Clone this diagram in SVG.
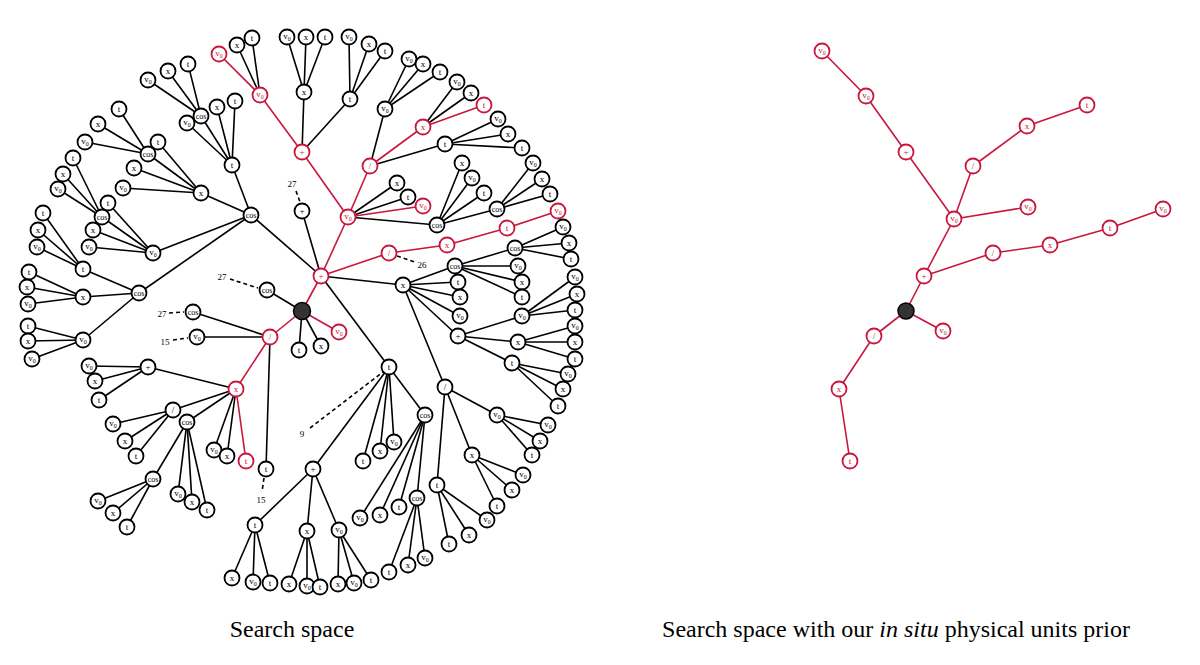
<svg xmlns="http://www.w3.org/2000/svg" width="1200" height="665" viewBox="0 0 1200 665">
<style>
.e line{stroke:#000;stroke-width:1.6}
.e line.rl{stroke:#c8163c}
.d line{stroke:#000;stroke-width:1.6;stroke-dasharray:4 3}
.b circle{fill:#fff;stroke:#000;stroke-width:1.8}
.r circle{fill:#fff;stroke:#c8163c;stroke-width:1.8}
.root circle{fill:#333;stroke:#000;stroke-width:1.5}
.n text{font-family:"Liberation Serif",serif;font-size:9px;text-anchor:middle}
.b text{fill:#000}
.r text{fill:#c8163c}
.n text.c{font-size:8px}
.n tspan{font-size:6px}
.ann{font-family:"Liberation Serif",serif;font-size:9px;text-anchor:middle;fill:#000}
.cap{font-family:"Liberation Serif",serif;font-size:24px;text-anchor:middle;fill:#000}
</style>
<rect width="1200" height="665" fill="#fff"/>
<g id="connectors" class="e">
<line class="rl" x1="302" y1="311" x2="321" y2="276"/>
<line x1="302" y1="311" x2="267" y2="290"/>
<line class="rl" x1="302" y1="311" x2="270" y2="337"/>
<line x1="302" y1="311" x2="299" y2="350"/>
<line x1="302" y1="311" x2="321" y2="346"/>
<line class="rl" x1="302" y1="311" x2="339" y2="332"/>
<line class="rl" x1="321" y1="276" x2="348" y2="217"/>
<line x1="321" y1="276" x2="302" y2="211"/>
<line x1="321" y1="276" x2="251" y2="215"/>
<line class="rl" x1="321" y1="276" x2="389" y2="253"/>
<line x1="321" y1="276" x2="403" y2="285"/>
<line x1="321" y1="276" x2="389" y2="367"/>
<line class="rl" x1="348" y1="217" x2="302" y2="152"/>
<line class="rl" x1="348" y1="217" x2="370" y2="166"/>
<line x1="348" y1="217" x2="397" y2="183"/>
<line x1="348" y1="217" x2="408" y2="197"/>
<line class="rl" x1="348" y1="217" x2="423" y2="206"/>
<line x1="348" y1="217" x2="437" y2="225"/>
<line class="rl" x1="302" y1="152" x2="260" y2="95"/>
<line x1="302" y1="152" x2="304" y2="92"/>
<line x1="302" y1="152" x2="350" y2="99"/>
<line class="rl" x1="260" y1="95" x2="219" y2="54"/>
<line x1="260" y1="95" x2="237" y2="45"/>
<line x1="260" y1="95" x2="252" y2="38"/>
<line x1="304" y1="92" x2="287" y2="37"/>
<line x1="304" y1="92" x2="306" y2="37"/>
<line x1="304" y1="92" x2="325" y2="37"/>
<line x1="350" y1="99" x2="349" y2="37"/>
<line x1="350" y1="99" x2="369" y2="44"/>
<line x1="350" y1="99" x2="385" y2="51"/>
<line x1="370" y1="166" x2="385" y2="109"/>
<line class="rl" x1="370" y1="166" x2="423" y2="127"/>
<line x1="370" y1="166" x2="445" y2="144"/>
<line x1="385" y1="109" x2="409" y2="59"/>
<line x1="385" y1="109" x2="423" y2="64"/>
<line x1="385" y1="109" x2="440" y2="72"/>
<line x1="423" y1="127" x2="457" y2="82"/>
<line x1="423" y1="127" x2="471" y2="93"/>
<line class="rl" x1="423" y1="127" x2="484" y2="105"/>
<line x1="445" y1="144" x2="498" y2="119"/>
<line x1="445" y1="144" x2="508" y2="134"/>
<line x1="445" y1="144" x2="522" y2="148"/>
<line x1="437" y1="225" x2="462" y2="163"/>
<line x1="437" y1="225" x2="472" y2="178"/>
<line x1="437" y1="225" x2="484" y2="193"/>
<line x1="437" y1="225" x2="497" y2="209"/>
<line x1="497" y1="209" x2="533" y2="163"/>
<line x1="497" y1="209" x2="542" y2="179"/>
<line x1="497" y1="209" x2="550" y2="194"/>
<line x1="251" y1="215" x2="232" y2="165"/>
<line x1="251" y1="215" x2="201" y2="193"/>
<line x1="251" y1="215" x2="153" y2="253"/>
<line x1="251" y1="215" x2="139" y2="293"/>
<line x1="232" y1="165" x2="201" y2="116"/>
<line x1="232" y1="165" x2="187" y2="123"/>
<line x1="232" y1="165" x2="217" y2="107"/>
<line x1="232" y1="165" x2="235" y2="101"/>
<line x1="201" y1="116" x2="188" y2="64"/>
<line x1="201" y1="116" x2="168" y2="71"/>
<line x1="201" y1="116" x2="148" y2="80"/>
<line x1="201" y1="193" x2="148" y2="154"/>
<line x1="201" y1="193" x2="158" y2="142"/>
<line x1="201" y1="193" x2="134" y2="168"/>
<line x1="201" y1="193" x2="123" y2="188"/>
<line x1="148" y1="154" x2="119" y2="109"/>
<line x1="148" y1="154" x2="98" y2="124"/>
<line x1="148" y1="154" x2="85" y2="142"/>
<line x1="153" y1="253" x2="108" y2="203"/>
<line x1="153" y1="253" x2="102" y2="217"/>
<line x1="153" y1="253" x2="93" y2="230"/>
<line x1="153" y1="253" x2="89" y2="247"/>
<line x1="102" y1="217" x2="73" y2="158"/>
<line x1="102" y1="217" x2="63" y2="174"/>
<line x1="102" y1="217" x2="58" y2="189"/>
<line x1="139" y1="293" x2="83" y2="269"/>
<line x1="139" y1="293" x2="83" y2="297"/>
<line x1="139" y1="293" x2="83" y2="340"/>
<line x1="83" y1="269" x2="43" y2="213"/>
<line x1="83" y1="269" x2="38" y2="230"/>
<line x1="83" y1="269" x2="37" y2="247"/>
<line x1="83" y1="297" x2="29" y2="272"/>
<line x1="83" y1="297" x2="27" y2="287"/>
<line x1="83" y1="297" x2="28" y2="304"/>
<line x1="83" y1="340" x2="28" y2="326"/>
<line x1="83" y1="340" x2="28" y2="341"/>
<line x1="83" y1="340" x2="32" y2="359"/>
<line class="rl" x1="389" y1="253" x2="447" y2="245"/>
<line class="rl" x1="447" y1="245" x2="507" y2="228"/>
<line class="rl" x1="507" y1="228" x2="558" y2="211"/>
<line x1="403" y1="285" x2="455" y2="266"/>
<line x1="403" y1="285" x2="458" y2="282"/>
<line x1="403" y1="285" x2="460" y2="297"/>
<line x1="403" y1="285" x2="460" y2="316"/>
<line x1="403" y1="285" x2="458" y2="336"/>
<line x1="403" y1="285" x2="445" y2="387"/>
<line x1="455" y1="266" x2="515" y2="248"/>
<line x1="455" y1="266" x2="518" y2="266"/>
<line x1="455" y1="266" x2="522" y2="282"/>
<line x1="455" y1="266" x2="522" y2="297"/>
<line x1="515" y1="248" x2="563" y2="227"/>
<line x1="515" y1="248" x2="569" y2="243"/>
<line x1="515" y1="248" x2="571" y2="259"/>
<line x1="458" y1="336" x2="522" y2="316"/>
<line x1="458" y1="336" x2="518" y2="342"/>
<line x1="458" y1="336" x2="512" y2="363"/>
<line x1="522" y1="316" x2="575" y2="277"/>
<line x1="522" y1="316" x2="577" y2="294"/>
<line x1="522" y1="316" x2="575" y2="310"/>
<line x1="518" y1="342" x2="575" y2="326"/>
<line x1="518" y1="342" x2="575" y2="342"/>
<line x1="518" y1="342" x2="575" y2="359"/>
<line x1="512" y1="363" x2="568" y2="374"/>
<line x1="512" y1="363" x2="563" y2="389"/>
<line x1="512" y1="363" x2="558" y2="406"/>
<line x1="445" y1="387" x2="497" y2="415"/>
<line x1="445" y1="387" x2="472" y2="455"/>
<line x1="445" y1="387" x2="437" y2="485"/>
<line x1="497" y1="415" x2="548" y2="425"/>
<line x1="497" y1="415" x2="540" y2="441"/>
<line x1="497" y1="415" x2="532" y2="455"/>
<line x1="472" y1="455" x2="523" y2="475"/>
<line x1="472" y1="455" x2="512" y2="490"/>
<line x1="472" y1="455" x2="497" y2="506"/>
<line x1="437" y1="485" x2="487" y2="520"/>
<line x1="437" y1="485" x2="469" y2="535"/>
<line x1="437" y1="485" x2="449" y2="544"/>
<line x1="389" y1="367" x2="313" y2="469"/>
<line x1="389" y1="367" x2="363" y2="461"/>
<line x1="389" y1="367" x2="380" y2="451"/>
<line x1="389" y1="367" x2="394" y2="442"/>
<line x1="389" y1="367" x2="425" y2="415"/>
<line x1="313" y1="469" x2="255" y2="525"/>
<line x1="313" y1="469" x2="307" y2="531"/>
<line x1="313" y1="469" x2="339" y2="530"/>
<line x1="255" y1="525" x2="232" y2="578"/>
<line x1="255" y1="525" x2="253" y2="582"/>
<line x1="255" y1="525" x2="270" y2="583"/>
<line x1="307" y1="531" x2="289" y2="584"/>
<line x1="307" y1="531" x2="307" y2="586"/>
<line x1="307" y1="531" x2="320" y2="587"/>
<line x1="339" y1="530" x2="338" y2="584"/>
<line x1="339" y1="530" x2="354" y2="583"/>
<line x1="339" y1="530" x2="371" y2="580"/>
<line x1="425" y1="415" x2="360" y2="518"/>
<line x1="425" y1="415" x2="380" y2="515"/>
<line x1="425" y1="415" x2="399" y2="507"/>
<line x1="425" y1="415" x2="417" y2="498"/>
<line x1="417" y1="498" x2="389" y2="572"/>
<line x1="417" y1="498" x2="408" y2="565"/>
<line x1="417" y1="498" x2="425" y2="558"/>
<line class="rl" x1="270" y1="337" x2="236" y2="389"/>
<line x1="270" y1="337" x2="193" y2="312"/>
<line x1="270" y1="337" x2="197" y2="337"/>
<line x1="270" y1="337" x2="266" y2="469"/>
<line x1="236" y1="389" x2="148" y2="367"/>
<line x1="236" y1="389" x2="173" y2="410"/>
<line x1="236" y1="389" x2="187" y2="422"/>
<line x1="236" y1="389" x2="214" y2="450"/>
<line x1="236" y1="389" x2="227" y2="456"/>
<line class="rl" x1="236" y1="389" x2="246" y2="461"/>
<line x1="148" y1="367" x2="89" y2="366"/>
<line x1="148" y1="367" x2="95" y2="381"/>
<line x1="148" y1="367" x2="99" y2="400"/>
<line x1="173" y1="410" x2="113" y2="424"/>
<line x1="173" y1="410" x2="125" y2="441"/>
<line x1="173" y1="410" x2="136" y2="456"/>
<line x1="187" y1="422" x2="153" y2="479"/>
<line x1="187" y1="422" x2="178" y2="494"/>
<line x1="187" y1="422" x2="192" y2="502"/>
<line x1="187" y1="422" x2="207" y2="510"/>
<line x1="153" y1="479" x2="98" y2="501"/>
<line x1="153" y1="479" x2="113" y2="513"/>
<line x1="153" y1="479" x2="127" y2="527"/>
<line class="rl" x1="906" y1="311" x2="924" y2="276"/>
<line class="rl" x1="906" y1="311" x2="943" y2="331"/>
<line class="rl" x1="906" y1="311" x2="874" y2="336"/>
<line class="rl" x1="924" y1="276" x2="954" y2="219"/>
<line class="rl" x1="924" y1="276" x2="993" y2="253"/>
<line class="rl" x1="954" y1="219" x2="906" y2="152"/>
<line class="rl" x1="954" y1="219" x2="973" y2="166"/>
<line class="rl" x1="954" y1="219" x2="1028" y2="207"/>
<line class="rl" x1="906" y1="152" x2="866" y2="96"/>
<line class="rl" x1="866" y1="96" x2="822" y2="51"/>
<line class="rl" x1="973" y1="166" x2="1027" y2="126"/>
<line class="rl" x1="1027" y1="126" x2="1087" y2="105"/>
<line class="rl" x1="993" y1="253" x2="1050" y2="245"/>
<line class="rl" x1="1050" y1="245" x2="1110" y2="228"/>
<line class="rl" x1="1110" y1="228" x2="1163" y2="209"/>
<line class="rl" x1="874" y1="336" x2="839" y2="389"/>
<line class="rl" x1="839" y1="389" x2="850" y2="461"/>
</g>
<g id="annotations">
<g class="d">
<line x1="296" y1="191" x2="300" y2="202"/>
<line x1="230" y1="279" x2="258" y2="288"/>
<line x1="169" y1="313" x2="184" y2="312"/>
<line x1="173" y1="340" x2="188" y2="338"/>
<line x1="397" y1="256" x2="415" y2="262"/>
<line x1="264" y1="478" x2="262" y2="492"/>
<line x1="310" y1="428" x2="383" y2="372"/>
</g>
<text class="ann" x="292" y="187">27</text>
<text class="ann" x="222" y="280">27</text>
<text class="ann" x="162" y="317">27</text>
<text class="ann" x="165" y="345">15</text>
<text class="ann" x="422" y="268">26</text>
<text class="ann" x="261" y="503">15</text>
<text class="ann" x="302" y="437">9</text>
</g>
<g id="nodes-left">
<g id="L_root" class="n root"><circle cx="302" cy="311" r="8.5"/></g>
<g id="L_321_276" class="n r"><circle cx="321" cy="276" r="7.5"/><text x="321" y="279">+</text></g>
<g id="L_267_290" class="n b"><circle cx="267" cy="290" r="7.5"/><text class="c" x="267" y="292.5">cos</text></g>
<g id="L_270_337" class="n r"><circle cx="270" cy="337" r="7.5"/><text x="270" y="340">/</text></g>
<g id="L_299_350" class="n b"><circle cx="299" cy="350" r="7.5"/><text x="299" y="353">t</text></g>
<g id="L_321_346" class="n b"><circle cx="321" cy="346" r="7.5"/><text x="321" y="349">x</text></g>
<g id="L_339_332" class="n r"><circle cx="339" cy="332" r="7.5"/><text x="339" y="334">v<tspan dy="1.5">0</tspan></text></g>
<g id="L_348_217" class="n r"><circle cx="348" cy="217" r="7.5"/><text x="348" y="219">v<tspan dy="1.5">0</tspan></text></g>
<g id="L_302_211" class="n b"><circle cx="302" cy="211" r="7.5"/><text x="302" y="214">+</text></g>
<g id="L_251_215" class="n b"><circle cx="251" cy="215" r="7.5"/><text class="c" x="251" y="217.5">cos</text></g>
<g id="L_389_253" class="n r"><circle cx="389" cy="253" r="7.5"/><text x="389" y="256">/</text></g>
<g id="L_403_285" class="n b"><circle cx="403" cy="285" r="7.5"/><text x="403" y="288">x</text></g>
<g id="L_389_367" class="n b"><circle cx="389" cy="367" r="7.5"/><text x="389" y="370">t</text></g>
<g id="L_302_152" class="n r"><circle cx="302" cy="152" r="7.5"/><text x="302" y="155">+</text></g>
<g id="L_370_166" class="n r"><circle cx="370" cy="166" r="7.5"/><text x="370" y="169">/</text></g>
<g id="L_397_183" class="n b"><circle cx="397" cy="183" r="7.5"/><text x="397" y="186">x</text></g>
<g id="L_408_197" class="n b"><circle cx="408" cy="197" r="7.5"/><text x="408" y="200">t</text></g>
<g id="L_423_206" class="n r"><circle cx="423" cy="206" r="7.5"/><text x="423" y="208">v<tspan dy="1.5">0</tspan></text></g>
<g id="L_437_225" class="n b"><circle cx="437" cy="225" r="7.5"/><text class="c" x="437" y="227.5">cos</text></g>
<g id="L_260_95" class="n r"><circle cx="260" cy="95" r="7.5"/><text x="260" y="97">v<tspan dy="1.5">0</tspan></text></g>
<g id="L_304_92" class="n b"><circle cx="304" cy="92" r="7.5"/><text x="304" y="95">x</text></g>
<g id="L_350_99" class="n b"><circle cx="350" cy="99" r="7.5"/><text x="350" y="102">t</text></g>
<g id="L_219_54" class="n r"><circle cx="219" cy="54" r="7.5"/><text x="219" y="56">v<tspan dy="1.5">0</tspan></text></g>
<g id="L_237_45" class="n b"><circle cx="237" cy="45" r="7.5"/><text x="237" y="48">x</text></g>
<g id="L_252_38" class="n b"><circle cx="252" cy="38" r="7.5"/><text x="252" y="41">t</text></g>
<g id="L_287_37" class="n b"><circle cx="287" cy="37" r="7.5"/><text x="287" y="39">v<tspan dy="1.5">0</tspan></text></g>
<g id="L_306_37" class="n b"><circle cx="306" cy="37" r="7.5"/><text x="306" y="40">x</text></g>
<g id="L_325_37" class="n b"><circle cx="325" cy="37" r="7.5"/><text x="325" y="40">t</text></g>
<g id="L_349_37" class="n b"><circle cx="349" cy="37" r="7.5"/><text x="349" y="39">v<tspan dy="1.5">0</tspan></text></g>
<g id="L_369_44" class="n b"><circle cx="369" cy="44" r="7.5"/><text x="369" y="47">x</text></g>
<g id="L_385_51" class="n b"><circle cx="385" cy="51" r="7.5"/><text x="385" y="54">t</text></g>
<g id="L_385_109" class="n b"><circle cx="385" cy="109" r="7.5"/><text x="385" y="111">v<tspan dy="1.5">0</tspan></text></g>
<g id="L_423_127" class="n r"><circle cx="423" cy="127" r="7.5"/><text x="423" y="130">x</text></g>
<g id="L_445_144" class="n b"><circle cx="445" cy="144" r="7.5"/><text x="445" y="147">t</text></g>
<g id="L_409_59" class="n b"><circle cx="409" cy="59" r="7.5"/><text x="409" y="61">v<tspan dy="1.5">0</tspan></text></g>
<g id="L_423_64" class="n b"><circle cx="423" cy="64" r="7.5"/><text x="423" y="67">x</text></g>
<g id="L_440_72" class="n b"><circle cx="440" cy="72" r="7.5"/><text x="440" y="75">t</text></g>
<g id="L_457_82" class="n b"><circle cx="457" cy="82" r="7.5"/><text x="457" y="84">v<tspan dy="1.5">0</tspan></text></g>
<g id="L_471_93" class="n b"><circle cx="471" cy="93" r="7.5"/><text x="471" y="96">x</text></g>
<g id="L_484_105" class="n r"><circle cx="484" cy="105" r="7.5"/><text x="484" y="108">t</text></g>
<g id="L_498_119" class="n b"><circle cx="498" cy="119" r="7.5"/><text x="498" y="121">v<tspan dy="1.5">0</tspan></text></g>
<g id="L_508_134" class="n b"><circle cx="508" cy="134" r="7.5"/><text x="508" y="137">x</text></g>
<g id="L_522_148" class="n b"><circle cx="522" cy="148" r="7.5"/><text x="522" y="151">t</text></g>
<g id="L_462_163" class="n b"><circle cx="462" cy="163" r="7.5"/><text x="462" y="166">x</text></g>
<g id="L_472_178" class="n b"><circle cx="472" cy="178" r="7.5"/><text x="472" y="180">v<tspan dy="1.5">0</tspan></text></g>
<g id="L_484_193" class="n b"><circle cx="484" cy="193" r="7.5"/><text x="484" y="196">t</text></g>
<g id="L_497_209" class="n b"><circle cx="497" cy="209" r="7.5"/><text class="c" x="497" y="211.5">cos</text></g>
<g id="L_533_163" class="n b"><circle cx="533" cy="163" r="7.5"/><text x="533" y="165">v<tspan dy="1.5">0</tspan></text></g>
<g id="L_542_179" class="n b"><circle cx="542" cy="179" r="7.5"/><text x="542" y="182">x</text></g>
<g id="L_550_194" class="n b"><circle cx="550" cy="194" r="7.5"/><text x="550" y="197">t</text></g>
<g id="L_232_165" class="n b"><circle cx="232" cy="165" r="7.5"/><text x="232" y="168">t</text></g>
<g id="L_201_193" class="n b"><circle cx="201" cy="193" r="7.5"/><text x="201" y="196">x</text></g>
<g id="L_153_253" class="n b"><circle cx="153" cy="253" r="7.5"/><text x="153" y="255">v<tspan dy="1.5">0</tspan></text></g>
<g id="L_139_293" class="n b"><circle cx="139" cy="293" r="7.5"/><text class="c" x="139" y="295.5">cos</text></g>
<g id="L_201_116" class="n b"><circle cx="201" cy="116" r="7.5"/><text class="c" x="201" y="118.5">cos</text></g>
<g id="L_187_123" class="n b"><circle cx="187" cy="123" r="7.5"/><text x="187" y="125">v<tspan dy="1.5">0</tspan></text></g>
<g id="L_217_107" class="n b"><circle cx="217" cy="107" r="7.5"/><text x="217" y="110">x</text></g>
<g id="L_235_101" class="n b"><circle cx="235" cy="101" r="7.5"/><text x="235" y="104">t</text></g>
<g id="L_188_64" class="n b"><circle cx="188" cy="64" r="7.5"/><text x="188" y="67">t</text></g>
<g id="L_168_71" class="n b"><circle cx="168" cy="71" r="7.5"/><text x="168" y="74">x</text></g>
<g id="L_148_80" class="n b"><circle cx="148" cy="80" r="7.5"/><text x="148" y="82">v<tspan dy="1.5">0</tspan></text></g>
<g id="L_148_154" class="n b"><circle cx="148" cy="154" r="7.5"/><text class="c" x="148" y="156.5">cos</text></g>
<g id="L_158_142" class="n b"><circle cx="158" cy="142" r="7.5"/><text x="158" y="145">t</text></g>
<g id="L_134_168" class="n b"><circle cx="134" cy="168" r="7.5"/><text x="134" y="171">x</text></g>
<g id="L_123_188" class="n b"><circle cx="123" cy="188" r="7.5"/><text x="123" y="190">v<tspan dy="1.5">0</tspan></text></g>
<g id="L_119_109" class="n b"><circle cx="119" cy="109" r="7.5"/><text x="119" y="112">t</text></g>
<g id="L_98_124" class="n b"><circle cx="98" cy="124" r="7.5"/><text x="98" y="127">x</text></g>
<g id="L_85_142" class="n b"><circle cx="85" cy="142" r="7.5"/><text x="85" y="144">v<tspan dy="1.5">0</tspan></text></g>
<g id="L_108_203" class="n b"><circle cx="108" cy="203" r="7.5"/><text x="108" y="206">t</text></g>
<g id="L_102_217" class="n b"><circle cx="102" cy="217" r="7.5"/><text class="c" x="102" y="219.5">cos</text></g>
<g id="L_93_230" class="n b"><circle cx="93" cy="230" r="7.5"/><text x="93" y="233">x</text></g>
<g id="L_89_247" class="n b"><circle cx="89" cy="247" r="7.5"/><text x="89" y="249">v<tspan dy="1.5">0</tspan></text></g>
<g id="L_73_158" class="n b"><circle cx="73" cy="158" r="7.5"/><text x="73" y="161">t</text></g>
<g id="L_63_174" class="n b"><circle cx="63" cy="174" r="7.5"/><text x="63" y="177">x</text></g>
<g id="L_58_189" class="n b"><circle cx="58" cy="189" r="7.5"/><text x="58" y="191">v<tspan dy="1.5">0</tspan></text></g>
<g id="L_83_269" class="n b"><circle cx="83" cy="269" r="7.5"/><text x="83" y="272">t</text></g>
<g id="L_83_297" class="n b"><circle cx="83" cy="297" r="7.5"/><text x="83" y="300">x</text></g>
<g id="L_83_340" class="n b"><circle cx="83" cy="340" r="7.5"/><text x="83" y="342">v<tspan dy="1.5">0</tspan></text></g>
<g id="L_43_213" class="n b"><circle cx="43" cy="213" r="7.5"/><text x="43" y="216">t</text></g>
<g id="L_38_230" class="n b"><circle cx="38" cy="230" r="7.5"/><text x="38" y="233">x</text></g>
<g id="L_37_247" class="n b"><circle cx="37" cy="247" r="7.5"/><text x="37" y="249">v<tspan dy="1.5">0</tspan></text></g>
<g id="L_29_272" class="n b"><circle cx="29" cy="272" r="7.5"/><text x="29" y="275">t</text></g>
<g id="L_27_287" class="n b"><circle cx="27" cy="287" r="7.5"/><text x="27" y="290">x</text></g>
<g id="L_28_304" class="n b"><circle cx="28" cy="304" r="7.5"/><text x="28" y="306">v<tspan dy="1.5">0</tspan></text></g>
<g id="L_28_326" class="n b"><circle cx="28" cy="326" r="7.5"/><text x="28" y="329">t</text></g>
<g id="L_28_341" class="n b"><circle cx="28" cy="341" r="7.5"/><text x="28" y="344">x</text></g>
<g id="L_32_359" class="n b"><circle cx="32" cy="359" r="7.5"/><text x="32" y="361">v<tspan dy="1.5">0</tspan></text></g>
<g id="L_447_245" class="n r"><circle cx="447" cy="245" r="7.5"/><text x="447" y="248">x</text></g>
<g id="L_507_228" class="n r"><circle cx="507" cy="228" r="7.5"/><text x="507" y="231">t</text></g>
<g id="L_558_211" class="n r"><circle cx="558" cy="211" r="7.5"/><text x="558" y="213">v<tspan dy="1.5">0</tspan></text></g>
<g id="L_455_266" class="n b"><circle cx="455" cy="266" r="7.5"/><text class="c" x="455" y="268.5">cos</text></g>
<g id="L_458_282" class="n b"><circle cx="458" cy="282" r="7.5"/><text x="458" y="285">t</text></g>
<g id="L_460_297" class="n b"><circle cx="460" cy="297" r="7.5"/><text x="460" y="300">x</text></g>
<g id="L_460_316" class="n b"><circle cx="460" cy="316" r="7.5"/><text x="460" y="318">v<tspan dy="1.5">0</tspan></text></g>
<g id="L_458_336" class="n b"><circle cx="458" cy="336" r="7.5"/><text x="458" y="339">+</text></g>
<g id="L_445_387" class="n b"><circle cx="445" cy="387" r="7.5"/><text x="445" y="390">/</text></g>
<g id="L_515_248" class="n b"><circle cx="515" cy="248" r="7.5"/><text class="c" x="515" y="250.5">cos</text></g>
<g id="L_518_266" class="n b"><circle cx="518" cy="266" r="7.5"/><text x="518" y="268">v<tspan dy="1.5">0</tspan></text></g>
<g id="L_522_282" class="n b"><circle cx="522" cy="282" r="7.5"/><text x="522" y="285">x</text></g>
<g id="L_522_297" class="n b"><circle cx="522" cy="297" r="7.5"/><text x="522" y="300">t</text></g>
<g id="L_563_227" class="n b"><circle cx="563" cy="227" r="7.5"/><text x="563" y="229">v<tspan dy="1.5">0</tspan></text></g>
<g id="L_569_243" class="n b"><circle cx="569" cy="243" r="7.5"/><text x="569" y="246">x</text></g>
<g id="L_571_259" class="n b"><circle cx="571" cy="259" r="7.5"/><text x="571" y="262">t</text></g>
<g id="L_522_316" class="n b"><circle cx="522" cy="316" r="7.5"/><text x="522" y="318">v<tspan dy="1.5">0</tspan></text></g>
<g id="L_518_342" class="n b"><circle cx="518" cy="342" r="7.5"/><text x="518" y="345">x</text></g>
<g id="L_512_363" class="n b"><circle cx="512" cy="363" r="7.5"/><text x="512" y="366">t</text></g>
<g id="L_575_277" class="n b"><circle cx="575" cy="277" r="7.5"/><text x="575" y="279">v<tspan dy="1.5">0</tspan></text></g>
<g id="L_577_294" class="n b"><circle cx="577" cy="294" r="7.5"/><text x="577" y="297">x</text></g>
<g id="L_575_310" class="n b"><circle cx="575" cy="310" r="7.5"/><text x="575" y="313">t</text></g>
<g id="L_575_326" class="n b"><circle cx="575" cy="326" r="7.5"/><text x="575" y="328">v<tspan dy="1.5">0</tspan></text></g>
<g id="L_575_342" class="n b"><circle cx="575" cy="342" r="7.5"/><text x="575" y="345">x</text></g>
<g id="L_575_359" class="n b"><circle cx="575" cy="359" r="7.5"/><text x="575" y="362">t</text></g>
<g id="L_568_374" class="n b"><circle cx="568" cy="374" r="7.5"/><text x="568" y="376">v<tspan dy="1.5">0</tspan></text></g>
<g id="L_563_389" class="n b"><circle cx="563" cy="389" r="7.5"/><text x="563" y="392">x</text></g>
<g id="L_558_406" class="n b"><circle cx="558" cy="406" r="7.5"/><text x="558" y="409">t</text></g>
<g id="L_497_415" class="n b"><circle cx="497" cy="415" r="7.5"/><text x="497" y="417">v<tspan dy="1.5">0</tspan></text></g>
<g id="L_472_455" class="n b"><circle cx="472" cy="455" r="7.5"/><text x="472" y="458">x</text></g>
<g id="L_437_485" class="n b"><circle cx="437" cy="485" r="7.5"/><text x="437" y="488">t</text></g>
<g id="L_548_425" class="n b"><circle cx="548" cy="425" r="7.5"/><text x="548" y="427">v<tspan dy="1.5">0</tspan></text></g>
<g id="L_540_441" class="n b"><circle cx="540" cy="441" r="7.5"/><text x="540" y="444">x</text></g>
<g id="L_532_455" class="n b"><circle cx="532" cy="455" r="7.5"/><text x="532" y="458">t</text></g>
<g id="L_523_475" class="n b"><circle cx="523" cy="475" r="7.5"/><text x="523" y="477">v<tspan dy="1.5">0</tspan></text></g>
<g id="L_512_490" class="n b"><circle cx="512" cy="490" r="7.5"/><text x="512" y="493">x</text></g>
<g id="L_497_506" class="n b"><circle cx="497" cy="506" r="7.5"/><text x="497" y="509">t</text></g>
<g id="L_487_520" class="n b"><circle cx="487" cy="520" r="7.5"/><text x="487" y="522">v<tspan dy="1.5">0</tspan></text></g>
<g id="L_469_535" class="n b"><circle cx="469" cy="535" r="7.5"/><text x="469" y="538">x</text></g>
<g id="L_449_544" class="n b"><circle cx="449" cy="544" r="7.5"/><text x="449" y="547">t</text></g>
<g id="L_313_469" class="n b"><circle cx="313" cy="469" r="7.5"/><text x="313" y="472">+</text></g>
<g id="L_363_461" class="n b"><circle cx="363" cy="461" r="7.5"/><text x="363" y="464">t</text></g>
<g id="L_380_451" class="n b"><circle cx="380" cy="451" r="7.5"/><text x="380" y="454">x</text></g>
<g id="L_394_442" class="n b"><circle cx="394" cy="442" r="7.5"/><text x="394" y="444">v<tspan dy="1.5">0</tspan></text></g>
<g id="L_425_415" class="n b"><circle cx="425" cy="415" r="7.5"/><text class="c" x="425" y="417.5">cos</text></g>
<g id="L_255_525" class="n b"><circle cx="255" cy="525" r="7.5"/><text x="255" y="528">t</text></g>
<g id="L_307_531" class="n b"><circle cx="307" cy="531" r="7.5"/><text x="307" y="534">x</text></g>
<g id="L_339_530" class="n b"><circle cx="339" cy="530" r="7.5"/><text x="339" y="532">v<tspan dy="1.5">0</tspan></text></g>
<g id="L_232_578" class="n b"><circle cx="232" cy="578" r="7.5"/><text x="232" y="581">x</text></g>
<g id="L_253_582" class="n b"><circle cx="253" cy="582" r="7.5"/><text x="253" y="584">v<tspan dy="1.5">0</tspan></text></g>
<g id="L_270_583" class="n b"><circle cx="270" cy="583" r="7.5"/><text x="270" y="586">t</text></g>
<g id="L_289_584" class="n b"><circle cx="289" cy="584" r="7.5"/><text x="289" y="587">x</text></g>
<g id="L_307_586" class="n b"><circle cx="307" cy="586" r="7.5"/><text x="307" y="588">v<tspan dy="1.5">0</tspan></text></g>
<g id="L_320_587" class="n b"><circle cx="320" cy="587" r="7.5"/><text x="320" y="590">t</text></g>
<g id="L_338_584" class="n b"><circle cx="338" cy="584" r="7.5"/><text x="338" y="587">x</text></g>
<g id="L_354_583" class="n b"><circle cx="354" cy="583" r="7.5"/><text x="354" y="585">v<tspan dy="1.5">0</tspan></text></g>
<g id="L_371_580" class="n b"><circle cx="371" cy="580" r="7.5"/><text x="371" y="583">t</text></g>
<g id="L_360_518" class="n b"><circle cx="360" cy="518" r="7.5"/><text x="360" y="520">v<tspan dy="1.5">0</tspan></text></g>
<g id="L_380_515" class="n b"><circle cx="380" cy="515" r="7.5"/><text x="380" y="518">x</text></g>
<g id="L_399_507" class="n b"><circle cx="399" cy="507" r="7.5"/><text x="399" y="510">t</text></g>
<g id="L_417_498" class="n b"><circle cx="417" cy="498" r="7.5"/><text class="c" x="417" y="500.5">cos</text></g>
<g id="L_389_572" class="n b"><circle cx="389" cy="572" r="7.5"/><text x="389" y="575">t</text></g>
<g id="L_408_565" class="n b"><circle cx="408" cy="565" r="7.5"/><text x="408" y="568">x</text></g>
<g id="L_425_558" class="n b"><circle cx="425" cy="558" r="7.5"/><text x="425" y="560">v<tspan dy="1.5">0</tspan></text></g>
<g id="L_236_389" class="n r"><circle cx="236" cy="389" r="7.5"/><text x="236" y="392">x</text></g>
<g id="L_193_312" class="n b"><circle cx="193" cy="312" r="7.5"/><text class="c" x="193" y="314.5">cos</text></g>
<g id="L_197_337" class="n b"><circle cx="197" cy="337" r="7.5"/><text x="197" y="339">v<tspan dy="1.5">0</tspan></text></g>
<g id="L_266_469" class="n b"><circle cx="266" cy="469" r="7.5"/><text x="266" y="472">t</text></g>
<g id="L_148_367" class="n b"><circle cx="148" cy="367" r="7.5"/><text x="148" y="370">+</text></g>
<g id="L_173_410" class="n b"><circle cx="173" cy="410" r="7.5"/><text x="173" y="413">/</text></g>
<g id="L_187_422" class="n b"><circle cx="187" cy="422" r="7.5"/><text class="c" x="187" y="424.5">cos</text></g>
<g id="L_214_450" class="n b"><circle cx="214" cy="450" r="7.5"/><text x="214" y="452">v<tspan dy="1.5">0</tspan></text></g>
<g id="L_227_456" class="n b"><circle cx="227" cy="456" r="7.5"/><text x="227" y="459">x</text></g>
<g id="L_246_461" class="n r"><circle cx="246" cy="461" r="7.5"/><text x="246" y="464">t</text></g>
<g id="L_89_366" class="n b"><circle cx="89" cy="366" r="7.5"/><text x="89" y="368">v<tspan dy="1.5">0</tspan></text></g>
<g id="L_95_381" class="n b"><circle cx="95" cy="381" r="7.5"/><text x="95" y="384">x</text></g>
<g id="L_99_400" class="n b"><circle cx="99" cy="400" r="7.5"/><text x="99" y="403">t</text></g>
<g id="L_113_424" class="n b"><circle cx="113" cy="424" r="7.5"/><text x="113" y="426">v<tspan dy="1.5">0</tspan></text></g>
<g id="L_125_441" class="n b"><circle cx="125" cy="441" r="7.5"/><text x="125" y="444">x</text></g>
<g id="L_136_456" class="n b"><circle cx="136" cy="456" r="7.5"/><text x="136" y="459">t</text></g>
<g id="L_153_479" class="n b"><circle cx="153" cy="479" r="7.5"/><text class="c" x="153" y="481.5">cos</text></g>
<g id="L_178_494" class="n b"><circle cx="178" cy="494" r="7.5"/><text x="178" y="496">v<tspan dy="1.5">0</tspan></text></g>
<g id="L_192_502" class="n b"><circle cx="192" cy="502" r="7.5"/><text x="192" y="505">x</text></g>
<g id="L_207_510" class="n b"><circle cx="207" cy="510" r="7.5"/><text x="207" y="513">t</text></g>
<g id="L_98_501" class="n b"><circle cx="98" cy="501" r="7.5"/><text x="98" y="503">v<tspan dy="1.5">0</tspan></text></g>
<g id="L_113_513" class="n b"><circle cx="113" cy="513" r="7.5"/><text x="113" y="516">x</text></g>
<g id="L_127_527" class="n b"><circle cx="127" cy="527" r="7.5"/><text x="127" y="530">t</text></g>
</g>
<g id="nodes-right">
<g id="R_root" class="n root"><circle cx="906" cy="311" r="8"/></g>
<g id="R_924_276" class="n r"><circle cx="924" cy="276" r="7.5"/><text x="924" y="279">+</text></g>
<g id="R_943_331" class="n r"><circle cx="943" cy="331" r="7.5"/><text x="943" y="333">v<tspan dy="1.5">0</tspan></text></g>
<g id="R_874_336" class="n r"><circle cx="874" cy="336" r="7.5"/><text x="874" y="339">/</text></g>
<g id="R_954_219" class="n r"><circle cx="954" cy="219" r="7.5"/><text x="954" y="221">v<tspan dy="1.5">0</tspan></text></g>
<g id="R_993_253" class="n r"><circle cx="993" cy="253" r="7.5"/><text x="993" y="256">/</text></g>
<g id="R_906_152" class="n r"><circle cx="906" cy="152" r="7.5"/><text x="906" y="155">+</text></g>
<g id="R_973_166" class="n r"><circle cx="973" cy="166" r="7.5"/><text x="973" y="169">/</text></g>
<g id="R_1028_207" class="n r"><circle cx="1028" cy="207" r="7.5"/><text x="1028" y="209">v<tspan dy="1.5">0</tspan></text></g>
<g id="R_866_96" class="n r"><circle cx="866" cy="96" r="7.5"/><text x="866" y="98">v<tspan dy="1.5">0</tspan></text></g>
<g id="R_822_51" class="n r"><circle cx="822" cy="51" r="7.5"/><text x="822" y="53">v<tspan dy="1.5">0</tspan></text></g>
<g id="R_1027_126" class="n r"><circle cx="1027" cy="126" r="7.5"/><text x="1027" y="129">x</text></g>
<g id="R_1087_105" class="n r"><circle cx="1087" cy="105" r="7.5"/><text x="1087" y="108">t</text></g>
<g id="R_1050_245" class="n r"><circle cx="1050" cy="245" r="7.5"/><text x="1050" y="248">x</text></g>
<g id="R_1110_228" class="n r"><circle cx="1110" cy="228" r="7.5"/><text x="1110" y="231">t</text></g>
<g id="R_1163_209" class="n r"><circle cx="1163" cy="209" r="7.5"/><text x="1163" y="211">v<tspan dy="1.5">0</tspan></text></g>
<g id="R_839_389" class="n r"><circle cx="839" cy="389" r="7.5"/><text x="839" y="392">x</text></g>
<g id="R_850_461" class="n r"><circle cx="850" cy="461" r="7.5"/><text x="850" y="464">t</text></g>
</g>
<g id="captions">
<text class="cap" x="292" y="637">Search space</text>
<text class="cap" x="896" y="637">Search space with our <tspan font-style="italic">in situ</tspan> physical units prior</text>
</g>
</svg>
